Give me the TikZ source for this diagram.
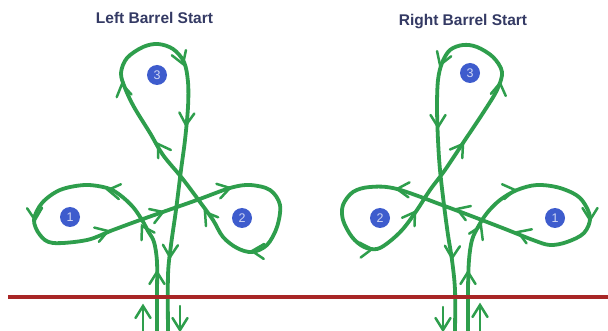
\documentclass[tikz,border=0pt]{standalone}
\usepackage{fontspec}
\setmainfont{Liberation Sans}
\definecolor{gr}{RGB}{46,158,76}
\definecolor{rl}{RGB}{168,38,38}
\definecolor{nv}{RGB}{52,58,100}
\definecolor{bl}{RGB}{62,92,205}
\tikzset{
 strand/.style={draw=gr, line width=3.8pt, line cap=round, line join=round},
 chevpath/.style={draw=gr, line width=2.5pt, line cap=round, line join=miter},
 num/.style={circle, fill=bl, minimum size=20pt, inner sep=0pt, text=white!75!bl, font=\fontsize{12.5}{12.5}\selectfont},
 title/.style={text=nv, font=\bfseries\fontsize{15.5}{18}\selectfont},
 pics/chev/.style={code={\draw[chevpath] (-12,7.5)--(0,0)--(-12,-7.5);}}
}
\begin{document}
\begin{tikzpicture}[x=1pt,y=-1pt]
\useasboundingbox (0,0) rectangle (608,331);
\fill[white] (0,0) rectangle (608,331);
% titles
\node[title] (tl) at (154.5,17.5) {Left Barrel Start};
\node[title] (tr) at (463,22) {Right Barrel Start};
% left diagram path
\draw[strand] plot[smooth, tension=0.55] coordinates {
 (157,331) (157,295) (157,262) (154,242) (148,231) (142,220) (133,207) (120,195) (107,188)
 (85,185) (60,190) (42,203) (34,220) (40,235) (53,243) (87,240) (113,230) (143,219)
 (197,200) (230,188) (250,185) (270,190) (280,205) (277,227) (267,245) (252,252)
 (237,248) (223,237) (213,220) (200,202) (182,178) (163,155) (150,133) (134,107)
 (125,88) (121,73) (127,58) (143,47) (158,44) (173,49) (184,62) (188,82) (188,107)
 (185,140) (181,170) (176,210) (171,245) (168,275) (168,331)};
% right diagram path
\draw[strand] plot[smooth, tension=0.55] coordinates {
 (468,331) (468,290) (469,260) (472,240) (478,227) (487,213) (500,200) (517,190)
 (537,185) (560,188) (580,198) (590,217) (584,233) (567,242) (550,245) (533,240)
 (500,227) (450,208) (397,189) (370,187) (353,192) (343,205) (343,220) (352,237)
 (364,247) (377,249) (389,242) (403,229) (417,210) (430,190) (445,170) (463,143)
 (483,113) (497,90) (502,72) (493,57) (477,47) (463,45) (450,50) (442,63) (438,80)
 (437,107) (438,140) (440,170) (444,205) (448,235) (452,260) (455,290) (455,331)};
% ground line
\draw[rl, line width=3.2pt] (8,297) -- (608,297);
% arrows below line
\draw[chevpath] (143,331) -- (143,306);
\pic[rotate=90] at (143,306) {chev};
\draw[chevpath] (180,306) -- (180,330);
\pic[rotate=270] at (180,330) {chev};
\draw[chevpath] (443,307) -- (443,330);
\pic[rotate=270] at (443,330) {chev};
\draw[chevpath] (480,331) -- (480,305);
\pic[rotate=90] at (480,305) {chev};
% left chevrons
\pic[rotate=90] at (157,272) {chev};
\pic[rotate=120] at (142,226) {chev};
\pic[rotate=172] at (108,190) {chev};
\pic[rotate=272] at (35,220) {chev};
\pic[rotate=18] at (108,231) {chev};
\pic[rotate=20] at (163,212) {chev};
\pic[rotate=15] at (230,188) {chev};
\pic[rotate=178] at (252,251) {chev};
\pic[rotate=126] at (205,212) {chev};
\pic[rotate=123] at (158,144) {chev};
\pic[rotate=100] at (122,84) {chev};
\pic[rotate=290] at (183,64) {chev};
\pic[rotate=266] at (186,125) {chev};
\pic[rotate=268] at (170,257) {chev};
% right chevrons
\pic[rotate=90] at (468,272) {chev};
\pic[rotate=65] at (481,226) {chev};
\pic[rotate=8] at (515,190) {chev};
\pic[rotate=270] at (590,220) {chev};
\pic[rotate=159] at (518,232) {chev};
\pic[rotate=160] at (457,209) {chev};
\pic[rotate=176] at (397,189) {chev};
\pic[rotate=5] at (372,249) {chev};
\pic[rotate=56] at (415,212) {chev};
\pic[rotate=55] at (463,144) {chev};
\pic[rotate=82] at (500,83) {chev};
\pic[rotate=250] at (440,65) {chev};
\pic[rotate=270] at (438,127) {chev};
\pic[rotate=268] at (452,258) {chev};
% numbered circles
\node[num] (l1) at (70,217) {1};
\node[num] (l2) at (242,218) {2};
\node[num] (l3) at (157,75) {3};
\node[num] (r2) at (380,218) {2};
\node[num] (r1) at (555,218) {1};
\node[num] (r3) at (470,73) {3};
\end{tikzpicture}
\end{document}
